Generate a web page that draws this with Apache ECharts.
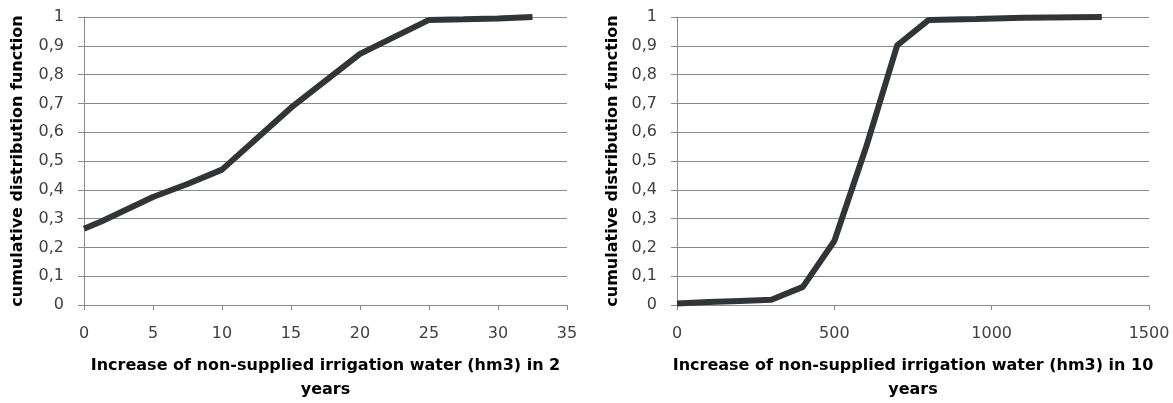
<!DOCTYPE html>
<html>
<head>
<meta charset="utf-8">
<script src="https://cdn.jsdelivr.net/npm/echarts@6/dist/echarts.min.js"></script>
<style>html,body{margin:0;padding:0;background:#fff}#c{width:1173px;height:403px}</style>
</head>
<body>
<div id="c"></div>
<script>
// Left chart: 2 years
const x2 = [0, 1.25, 5, 7.5, 10, 15, 20, 25, 27.5, 30, 32.5];
const y2 = [0.265, 0.29, 0.375, 0.42, 0.47, 0.685, 0.872, 0.99, 0.992, 0.995, 1.0];
// Right chart: 10 years
const x10 = [0, 100, 200, 300, 400, 500, 600, 700, 800, 950, 1100, 1350];
const y10 = [0.005, 0.01, 0.014, 0.018, 0.063, 0.222, 0.545, 0.902, 0.99, 0.993, 0.997, 1.0];
const xName2 = 'Increase of non-supplied irrigation water (hm3) in 2\nyears';
const xName10 = 'Increase of non-supplied irrigation water (hm3) in 10\nyears';
const yName = 'cumulative distribution function';

const font = '"DejaVu Sans", sans-serif';
const gridColor = '#8a8a8a';
function xAxis(idx, max, interval, name) {
  return {
    type: 'value', gridIndex: idx, min: 0, max: max, interval: interval,
    name: name, nameLocation: 'middle', nameGap: 49,
    nameTextStyle: {fontFamily: font, fontSize: 16, fontWeight: 'bold', color: '#000', lineHeight: 24},
    axisLine: {show: true, lineStyle: {color: gridColor, width: 1}},
    axisTick: {show: true, length: 5, lineStyle: {color: gridColor}},
    axisLabel: {fontFamily: font, fontSize: 16, color: '#404040', margin: 21,
      formatter: v => String(v)},
    splitLine: {show: false}
  };
}
function yAxis(idx, gap) {
  return {
    type: 'value', gridIndex: idx, min: 0, max: 1, interval: 0.1,
    name: yName, nameLocation: 'middle', nameGap: gap,
    nameTextStyle: {fontFamily: font, fontSize: 16, fontWeight: 'bold', color: '#000'},
    axisLine: {show: true, lineStyle: {color: gridColor, width: 1}},
    axisTick: {show: true, length: 6, lineStyle: {color: gridColor}},
    axisLabel: {fontFamily: font, fontSize: 16, color: '#404040', margin: 20,
      formatter: v => (Math.round(v * 10) / 10).toString().replace('.', ',')},
    splitLine: {show: true, lineStyle: {color: gridColor, width: 1}}
  };
}
const chart = echarts.init(document.getElementById('c'), null, {renderer: 'canvas'});
chart.setOption({
  animation: false,
  backgroundColor: '#fff',
  grid: [
    {left: 84, right: 606, top: 17, bottom: 98, containLabel: false, outerBoundsMode: 'none'},
    {left: 677, right: 24, top: 17, bottom: 98, containLabel: false, outerBoundsMode: 'none'}
  ],
  xAxis: [xAxis(0, 35, 5, xName2), xAxis(1, 1500, 500, xName10)],
  yAxis: [yAxis(0, 58), yAxis(1, 56)],
  series: [
    {type: 'line', xAxisIndex: 0, yAxisIndex: 0, data: x2.map((v, i) => [v, y2[i]]),
     showSymbol: false, lineStyle: {color: '#323538', width: 6}},
    {type: 'line', xAxisIndex: 1, yAxisIndex: 1, data: x10.map((v, i) => [v, y10[i]]),
     showSymbol: false, lineStyle: {color: '#323538', width: 6}}
  ]
});
</script>
</body>
</html>
